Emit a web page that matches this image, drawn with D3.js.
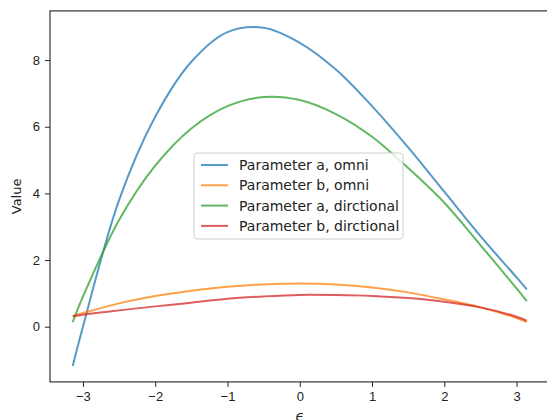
<!DOCTYPE html>
<html>
<head>
<meta charset="utf-8">
<script src="https://cdn.jsdelivr.net/npm/d3@7"></script>
<style>
  body { margin: 0; background: #fff; }
  svg { font-family: 'DejaVu Sans', sans-serif; }
  .axis path, .axis line { stroke: #222; }
  .axis text { fill: #222; font-size: 13px; }
  .path-line { fill: none; stroke-width: 2px; stroke-opacity: 0.75; }
</style>
</head>
<body>
<svg width="547" height="420"></svg>
<script>
'use strict';

var PI = Math.PI;
var XS = [-PI, -3, -2.5, -2, -1.5, -1, -0.5, 0, 0.5, 1, 1.5, 2, 2.5, 3, PI];
var A_OMNI = [-1.18, 0.0, 3.8, 6.3, 7.95, 8.84, 8.97, 8.52, 7.72, 6.62, 5.38, 4.05, 2.72, 1.48, 1.12];
var B_OMNI = [0.32, 0.41, 0.7, 0.92, 1.08, 1.2, 1.27, 1.3, 1.27, 1.18, 1.03, 0.82, 0.58, 0.26, 0.14];
var A_DIR = [0.14, 0.9, 3.2, 4.83, 5.95, 6.62, 6.89, 6.8, 6.38, 5.7, 4.76, 3.72, 2.45, 1.15, 0.77];
var B_DIR = [0.31, 0.36, 0.49, 0.61, 0.72, 0.84, 0.91, 0.955, 0.95, 0.925, 0.86, 0.75, 0.58, 0.3, 0.18];
var LABELS = ['Parameter a, omni', 'Parameter b, omni', 'Parameter a, dirctional', 'Parameter b, dirctional'];
var COLORS = ['#1f77b4', '#ff7f0e', '#2ca02c', '#d62728'];
var X_TICKS = [-3, -2, -1, 0, 1, 2, 3];
var Y_TICKS = [0, 2, 4, 6, 8];

var svg = d3.select('svg');
var margin = { top: 10.9, left: 50, bottom: 381.9, right: 549.5 };

var xPad = 0.05 * 2 * PI;
var xScale = d3.scaleLinear().domain([-PI - xPad, PI + xPad]).range([margin.left, margin.right]);
var yScale = d3.scaleLinear().domain([-1.656, 9.476]).range([margin.bottom, margin.top]);

var line = d3.line().x(function (d, i) {
  return xScale(XS[i]);
}).y(function (d) {
  return yScale(d);
}).curve(d3.curveCatmullRom.alpha(0.5));

// lines
var series = [A_OMNI, B_OMNI, A_DIR, B_DIR];
svg.append('g').attr('class', 'lines').selectAll('path').data(series).enter()
  .append('path').attr('class', 'path-line')
  .attr('stroke', function (d, i) { return COLORS[i]; })
  .attr('d', line);

// axes
var xAxis = d3.axisBottom(xScale).tickValues(X_TICKS).tickSize(5).tickPadding(5)
  .tickFormat(function (d) { return d < 0 ? '\u2212' + Math.abs(d) : d; });
var yAxis = d3.axisLeft(yScale).tickValues(Y_TICKS).tickSize(5).tickPadding(5);

svg.append('g').attr('class', 'x axis').attr('transform', 'translate(0,' + margin.bottom + ')').call(xAxis);
svg.append('g').attr('class', 'y axis').attr('transform', 'translate(' + margin.left + ',0)').call(yAxis);
svg.selectAll('.axis .domain').remove();

// spines
svg.append('rect').attr('x', margin.left).attr('y', margin.top)
  .attr('width', margin.right - margin.left).attr('height', margin.bottom - margin.top)
  .attr('fill', 'none').attr('stroke', '#222').attr('stroke-width', 1.1);

// axis labels
svg.append('text').attr('transform', 'translate(17,' + ((margin.top + margin.bottom) / 2) + ') rotate(-90)')
  .attr('text-anchor', 'middle').attr('dominant-baseline', 'middle')
  .style('font-size', '13px').attr('fill', '#222').text('Value');
svg.append('text').attr('x', xScale(0)).attr('y', 421)
  .attr('text-anchor', 'middle').style('font-size', '14px').style('font-style', 'italic')
  .attr('fill', '#222').text('\u03f5');

// legend
var legend = svg.append('g').attr('class', 'legend').attr('transform', 'translate(194,153)');
legend.append('rect').attr('width', 209).attr('height', 86).attr('rx', 3)
  .attr('fill', '#fff').attr('fill-opacity', 0.8).attr('stroke', '#ccc');
var items = legend.selectAll('g.item').data(LABELS).enter().append('g').attr('class', 'item')
  .attr('transform', function (d, i) { return 'translate(0,' + (12 + i * 20.3) + ')'; });
items.append('line').attr('x1', 7).attr('x2', 34).attr('y1', 0).attr('y2', 0)
  .attr('stroke', function (d, i) { return COLORS[i]; }).attr('stroke-width', 2).attr('stroke-opacity', 0.75);
items.append('text').attr('x', 45).attr('y', 0).attr('dominant-baseline', 'central')
  .style('font-size', '14px').attr('fill', '#222').text(function (d) { return d; });
</script>
</body>
</html>
